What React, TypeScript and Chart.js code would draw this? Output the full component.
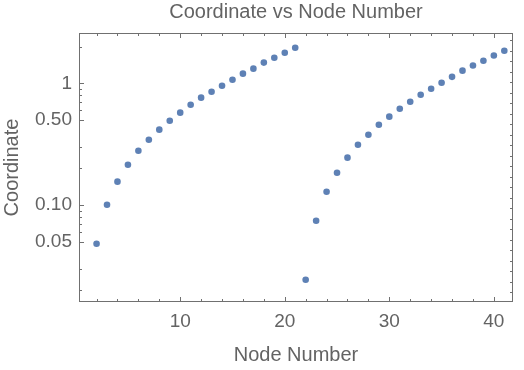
import React, { useEffect, useRef } from "react";
import { Chart, registerables } from "chart.js";

Chart.register(...registerables);

const nodeNumbers = [
  2, 3, 4, 5, 6, 7, 8, 9, 10, 11, 12, 13, 14, 15, 16, 17, 18, 19, 20, 21,
  22, 23, 24, 25, 26, 27, 28, 29, 30, 31, 32, 33, 34, 35, 36, 37, 38, 39, 40, 41,
];
const coordinates = [
  0.0481, 0.1006, 0.1555, 0.2143, 0.279, 0.344, 0.416, 0.493, 0.574, 0.667,
  0.762, 0.853, 0.955, 1.07, 1.2, 1.32, 1.48, 1.62, 1.78, 1.96,
  0.0243, 0.0743, 0.1286, 0.184, 0.245, 0.313, 0.378, 0.457, 0.532, 0.618,
  0.706, 0.806, 0.903, 1.01, 1.13, 1.27, 1.4, 1.53, 1.69, 1.85,
];
const xMajorTicks = [10, 20, 30, 40];
const xMinorTicks = [2, 4, 6, 8, 12, 14, 16, 18, 22, 24, 26, 28, 32, 34, 36, 38];
const yMajorTicks = [0.05, 0.1, 0.5, 1];
const yTickLabels = ["0.05", "0.10", "0.50", "1"];
const yMinorTicks = [2, 0.9, 0.8, 0.7, 0.6, 0.3, 0.2, 0.09, 0.08, 0.07, 0.06, 0.03, 0.02];

const TEXT = "#636363";
const FRAME = "#707070";
const FONT = "'Liberation Sans', Arial, sans-serif";

const framePlugin = {
  id: "frameTicks",
  afterDatasetsDraw(chart: any) {
    const { ctx, chartArea: a, scales } = chart;
    const xs = scales.x;
    const ys = scales.y;
    ctx.save();
    ctx.strokeStyle = FRAME;
    ctx.lineWidth = 1;
    ctx.strokeRect(a.left + 0.5, a.top + 0.5, a.right - a.left - 1, a.bottom - a.top - 1);
    const line = (x1: number, y1: number, x2: number, y2: number) => {
      ctx.beginPath();
      ctx.moveTo(x1, y1);
      ctx.lineTo(x2, y2);
      ctx.stroke();
    };
    const xt = (v: number, len: number) => {
      const p = Math.round(xs.getPixelForValue(v)) + 0.5;
      line(p, a.bottom, p, a.bottom - len);
      line(p, a.top, p, a.top + len);
    };
    xMajorTicks.forEach((v) => xt(v, 5));
    xMinorTicks.forEach((v) => xt(v, 3));
    const yt = (v: number, len: number) => {
      const p = Math.round(ys.getPixelForValue(v)) + 0.5;
      line(a.left, p, a.left + len, p);
    };
    yMajorTicks.forEach((v) => yt(v, 5));
    yMinorTicks.forEach((v) => yt(v, 3));
    const step = 10.5;
    for (let p = a.top + 7.4; p < a.bottom - 4; p += step) {
      const q = Math.round(p) + 0.5;
      line(a.right, q, a.right - 3, q);
    }
    ctx.restore();
  },
};

export default function App() {
  const ref = useRef<HTMLCanvasElement>(null);
  useEffect(() => {
    if (!ref.current) return;
    const chart = new Chart(ref.current, {
      type: "scatter",
      data: {
        datasets: [
          {
            data: nodeNumbers.map((x, i) => ({ x, y: coordinates[i] })),
            backgroundColor: "rgb(94,129,181)",
            borderWidth: 0,
            pointRadius: 3.3,
          },
        ],
      },
      plugins: [framePlugin],
      options: {
        animation: false,
        responsive: false,
        maintainAspectRatio: false,
        layout: { padding: { left: 0, right: 11, top: 0, bottom: 0 } },
        plugins: {
          legend: { display: false },
          tooltip: { enabled: false },
          title: {
            display: true,
            fullSize: false,
            text: "Coordinate vs Node Number",
            color: TEXT,
            font: { family: FONT, size: 20, weight: "normal" },
            padding: { top: 0, bottom: 9 },
          },
        },
        scales: {
          x: {
            type: "linear",
            min: 0.32,
            max: 41.83,
            grid: { display: false, drawTicks: false },
            border: { display: false },
            afterBuildTicks: (s: any) => {
              s.ticks = xMajorTicks.map((v) => ({ value: v }));
            },
            afterFit: (s: any) => {
              s.height = 68;
            },
            ticks: {
              color: TEXT,
              font: { family: FONT, size: 19 },
              padding: 8,
              maxRotation: 0,
            },
            title: {
              display: true,
              text: "Node Number",
              color: TEXT,
              font: { family: FONT, size: 20 },
              padding: { top: 0, bottom: 3 },
            },
          },
          y: {
            type: "logarithmic",
            min: 0.01596,
            max: 2.59,
            grid: { display: false, drawTicks: false },
            border: { display: false },
            afterBuildTicks: (s: any) => {
              s.ticks = yMajorTicks.map((v) => ({ value: v }));
            },
            afterFit: (s: any) => {
              s.width = 79;
            },
            ticks: {
              color: TEXT,
              font: { family: FONT, size: 19 },
              padding: 7,
              callback: (v: any) => {
                const i = yMajorTicks.findIndex((t) => Math.abs(t - Number(v)) < 1e-9);
                return i >= 0 ? yTickLabels[i] : "";
              },
            },
            title: {
              display: true,
              text: "Coordinate",
              color: TEXT,
              font: { family: FONT, size: 20 },
              padding: { top: 0, bottom: 0 },
            },
          },
        },
      },
    });
    return () => chart.destroy();
  }, []);
  return (
    <div style={{ position: "fixed", left: 0, top: 0, width: 524, height: 370 }}>
      <canvas ref={ref} width={524} height={370} style={{ width: 524, height: 370 }} />
    </div>
  );
}
